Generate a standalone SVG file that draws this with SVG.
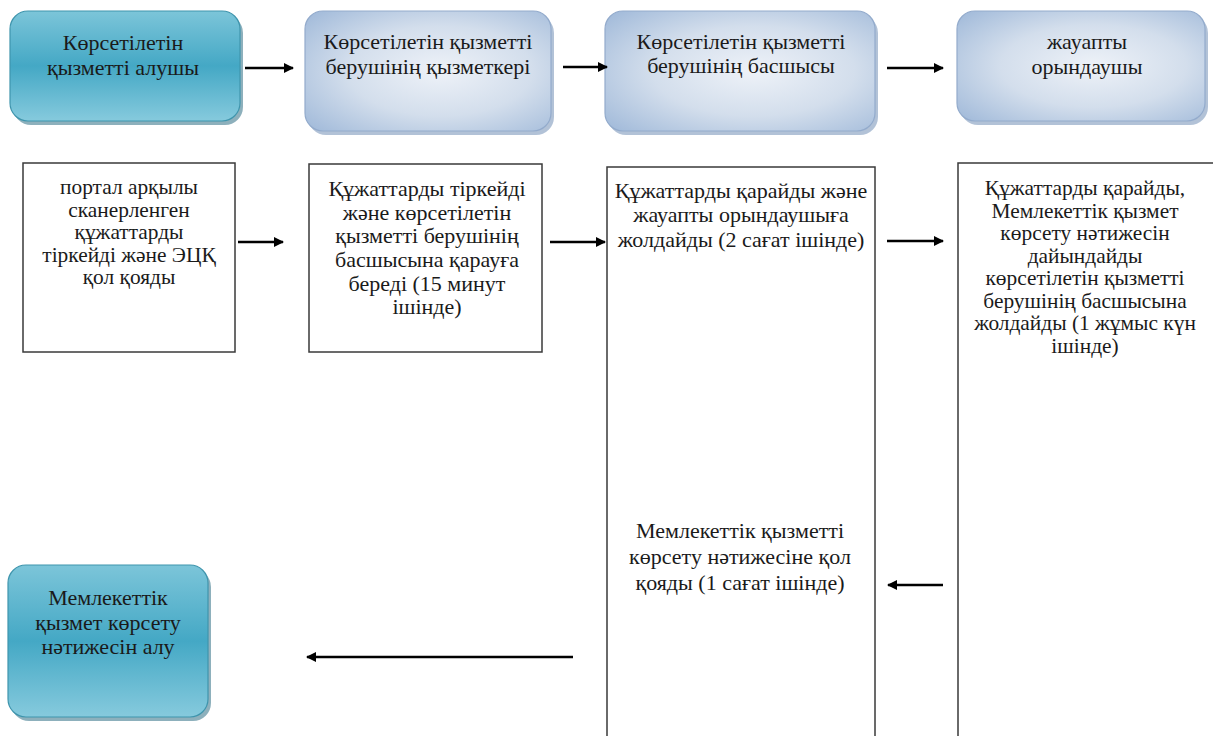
<svg xmlns="http://www.w3.org/2000/svg" width="1213" height="736" viewBox="0 0 1213 736">
<style>
text{font-family:"Liberation Serif","Noto Serif","DejaVu Serif",serif;font-size:22px;fill:#1a1a1a;text-anchor:middle}
text.sm{font-size:21.4px}
.box{fill:#fff;stroke:#3a3a3a;stroke-width:1.5}
.teal{fill:url(#gTeal);stroke:#3f95ad;stroke-width:1.2}
.blue{fill:url(#gBlue);stroke:#93abcc;stroke-width:1.2}
.shT{fill:#2f6f85;opacity:.55}
.shB{fill:#7390b6;opacity:.55}
.con{stroke:#000;stroke-width:2.5;fill:none;marker-end:url(#ah)}
</style>
<defs>
<linearGradient id="gTeal" x1="0" y1="0" x2="0" y2="1">
<stop offset="0" stop-color="#7cc5d9"/>
<stop offset="0.5" stop-color="#44a8c5"/>
<stop offset="1" stop-color="#86cadd"/>
</linearGradient>
<radialGradient id="gBlue" cx="0.55" cy="0.5" r="0.75">
<stop offset="0" stop-color="#eef2f8"/>
<stop offset="0.5" stop-color="#d3deec"/>
<stop offset="1" stop-color="#9db7d8"/>
</radialGradient>
<marker id="ah" viewBox="0 0 10 10" refX="9" refY="5" markerWidth="4" markerHeight="4" orient="auto" markerUnits="strokeWidth">
<path d="M0,0 L10,5 L0,10 z" fill="#000"/>
</marker>
</defs>

<g id="n1">
<rect class="shT" x="13" y="15" width="230" height="110" rx="18"/>
<rect class="teal" x="10" y="11" width="230" height="110" rx="18"/>
<text x="123" y="50">Көрсетілетін</text>
<text x="123" y="75">қызметті алушы</text>
</g>
<g id="n2">
<rect class="shB" x="308" y="15" width="246" height="120" rx="18"/>
<rect class="blue" x="305" y="11" width="246" height="120" rx="18"/>
<text x="428" y="49">Көрсетілетін қызметті</text>
<text x="428" y="74">берушінің қызметкері</text>
</g>
<g id="n3">
<rect class="shB" x="608" y="15" width="270" height="120" rx="18"/>
<rect class="blue" x="605" y="11" width="270" height="120" rx="18"/>
<text x="741" y="49">Көрсетілетін қызметті</text>
<text x="741" y="73">берушінің басшысы</text>
</g>
<g id="n4">
<rect class="shB" x="960" y="15" width="248" height="110" rx="18"/>
<rect class="blue" x="957" y="11" width="248" height="110" rx="18"/>
<text x="1087" y="49">жауапты</text>
<text x="1087" y="74">орындаушы</text>
</g>

<g id="s1">
<rect class="box" x="23" y="163" width="212" height="189"/>
<text class="sm" x="129" y="194">портал арқылы</text>
<text class="sm" x="129" y="216.5">сканерленген</text>
<text class="sm" x="129" y="239">құжаттарды</text>
<text class="sm" x="129" y="261.5">тіркейді және ЭЦҚ</text>
<text class="sm" x="129" y="284">қол қояды</text>
</g>
<g id="s2">
<rect class="box" x="309" y="164" width="233" height="188"/>
<text x="427" y="196">Құжаттарды тіркейді</text>
<text x="427" y="220">және көрсетілетін</text>
<text x="427" y="243">қызметті берушінің</text>
<text x="427" y="267">басшысына қарауға</text>
<text x="427" y="291">береді (15 минут</text>
<text x="427" y="314">ішінде)</text>
</g>
<g id="s3">
<rect class="box" x="607" y="167" width="268" height="600"/>
<text x="741" y="198">Құжаттарды қарайды және</text>
<text x="741" y="222">жауапты орындаушыға</text>
<text x="741" y="247">жолдайды (2 сағат ішінде)</text>
<text x="740" y="538">Мемлекеттік қызметті</text>
<text x="740" y="564">көрсету нәтижесіне қол</text>
<text x="740" y="590">қояды (1 сағат ішінде)</text>
</g>
<g id="s4">
<rect class="box" x="958" y="163" width="280" height="600"/>
<text class="sm" x="1085" y="195">Құжаттарды қарайды,</text>
<text class="sm" x="1085" y="217.5">Мемлекеттік қызмет</text>
<text class="sm" x="1085" y="240">көрсету нәтижесін</text>
<text class="sm" x="1085" y="262.5">дайындайды</text>
<text class="sm" x="1085" y="285">көрсетілетін қызметті</text>
<text class="sm" x="1085" y="307.5">берушінің басшысына</text>
<text class="sm" x="1085" y="330">жолдайды (1 жұмыс күн</text>
<text class="sm" x="1085" y="352.5">ішінде)</text>
</g>
<g id="n5">
<rect class="shT" x="11" y="569" width="200" height="152" rx="18"/>
<rect class="teal" x="8" y="565" width="200" height="152" rx="18"/>
<text x="108" y="605">Мемлекеттік</text>
<text x="108" y="630">қызмет көрсету</text>
<text x="108" y="654">нәтижесін алу</text>
</g>

<g id="connectors">
<line class="con" x1="245" y1="68" x2="293" y2="68"/>
<line class="con" x1="563" y1="67" x2="607" y2="67"/>
<line class="con" x1="887" y1="68" x2="943" y2="68"/>
<line class="con" x1="238" y1="242" x2="283" y2="242"/>
<line class="con" x1="550" y1="242" x2="605" y2="242"/>
<line class="con" x1="887" y1="241" x2="943" y2="241"/>
<line class="con" x1="943" y1="585" x2="888" y2="585"/>
<line class="con" x1="573" y1="657" x2="307" y2="657"/>
</g>
</svg>
